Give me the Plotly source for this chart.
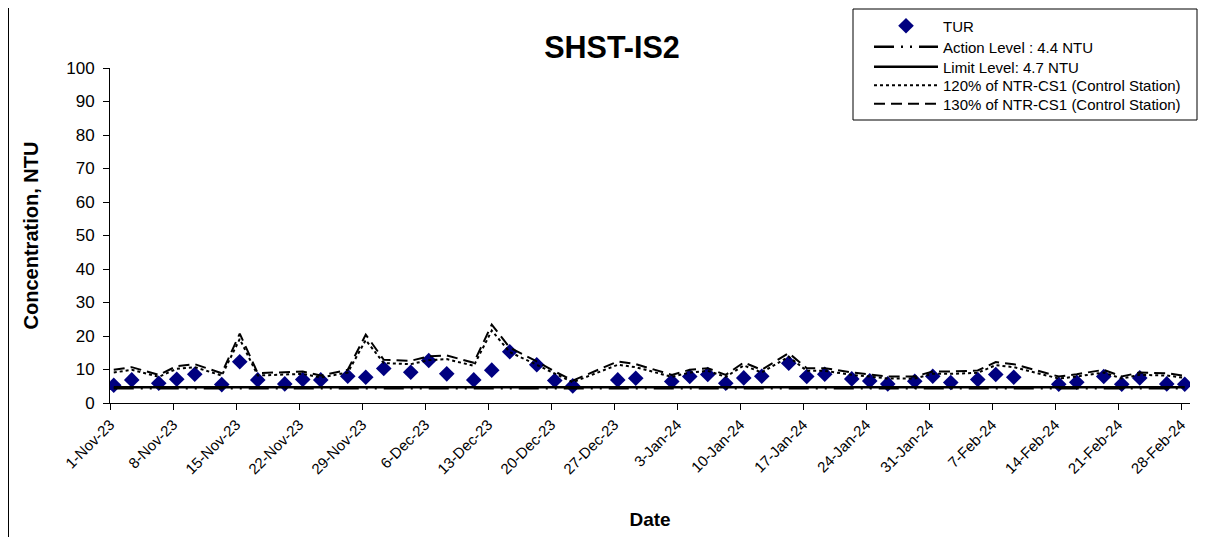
import plotly.graph_objects as go

dates = [
    "2023-11-01", "2023-11-03", "2023-11-06", "2023-11-08", "2023-11-10", "2023-11-13",
    "2023-11-15", "2023-11-17", "2023-11-20", "2023-11-22", "2023-11-24", "2023-11-27",
    "2023-11-29", "2023-12-01", "2023-12-04", "2023-12-06", "2023-12-08", "2023-12-11",
    "2023-12-13", "2023-12-15", "2023-12-18", "2023-12-20", "2023-12-22", "2023-12-27",
    "2023-12-29", "2024-01-02", "2024-01-04", "2024-01-06", "2024-01-08", "2024-01-10",
    "2024-01-12", "2024-01-15", "2024-01-17", "2024-01-19", "2024-01-22", "2024-01-24",
    "2024-01-26", "2024-01-29", "2024-01-31", "2024-02-02", "2024-02-05", "2024-02-07",
    "2024-02-09", "2024-02-14", "2024-02-16", "2024-02-19", "2024-02-21", "2024-02-23",
    "2024-02-26", "2024-02-28",
]
sample_time = " 10:00"

tur = [
    5.3, 6.9, 5.9, 7.1, 8.6, 5.5, 12.3, 6.9, 5.7, 7.0, 6.9, 8.0, 7.7,
    10.3, 9.2, 12.7, 8.7, 6.9, 9.8, 15.3, 11.4, 6.7, 5.1, 6.9, 7.4,
    6.4, 7.9, 8.5, 5.9, 7.5, 8.0, 11.9, 7.9, 8.6, 7.2, 6.6, 5.7, 6.5, 8.0,
    6.1, 7.0, 8.5, 7.7, 5.6, 6.2, 7.9, 5.6, 7.5, 5.7, 5.6,
]
ntr_120 = [
    9.1, 9.9, 7.8, 10.2, 10.7, 8.2, 19.1, 8.2, 8.5, 8.7, 7.6, 9.1, 18.8,
    11.9, 11.6, 12.8, 13.1, 11.1, 21.6, 15.2, 11.4, 8.7, 6.2, 11.4, 10.7,
    7.8, 9.1, 9.6, 7.8, 11.2, 9.1, 13.8, 9.6, 9.6, 8.4, 7.9, 7.3, 7.3, 8.7,
    8.7, 9.0, 11.3, 10.7, 7.3, 7.9, 9.1, 7.3, 8.4, 8.2, 7.5,
]
ntr_130 = [
    9.9, 10.7, 8.4, 11.0, 11.6, 8.9, 20.7, 8.9, 9.2, 9.4, 8.2, 9.9, 20.4,
    12.9, 12.6, 13.9, 14.2, 12.0, 23.4, 16.5, 12.4, 9.4, 6.7, 12.4, 11.6,
    8.4, 9.9, 10.4, 8.4, 12.1, 9.9, 14.9, 10.4, 10.4, 9.1, 8.6, 7.9, 7.9, 9.4,
    9.4, 9.7, 12.2, 11.6, 7.9, 8.6, 9.9, 7.9, 9.1, 8.9, 8.1,
]
action_level = 4.4
limit_level = 4.7

tick_dates = [
    "2023-11-01", "2023-11-08", "2023-11-15", "2023-11-22", "2023-11-29", "2023-12-06",
    "2023-12-13", "2023-12-20", "2023-12-27", "2024-01-03", "2024-01-10", "2024-01-17",
    "2024-01-24", "2024-01-31", "2024-02-07", "2024-02-14", "2024-02-21", "2024-02-28",
]
tick_labels = [
    "1-Nov-23", "8-Nov-23", "15-Nov-23", "22-Nov-23", "29-Nov-23", "6-Dec-23",
    "13-Dec-23", "20-Dec-23", "27-Dec-23", "3-Jan-24", "10-Jan-24", "17-Jan-24",
    "24-Jan-24", "31-Jan-24", "7-Feb-24", "14-Feb-24", "21-Feb-24", "28-Feb-24",
]

x = [d + sample_time for d in dates]
FONT = "Arial, Liberation Sans, sans-serif"

W, H = 1214, 537
L, R, T, B = 102, 1182, 60, 395
PW, PH = R - L, B - T


def px_x(px):
    return (px - L) / PW


def px_y(py):
    return (B - py) / PH


legend_rows = [18, 39, 59, 77.5, 96]
legend_ids = ["legend", "legend2", "legend3", "legend4", "legend5"]

fig = go.Figure()
fig.add_trace(go.Scatter(
    x=x, y=tur, mode="markers", name="TUR", legend=legend_ids[0],
    marker=dict(symbol="diamond", size=12, color="#000080"),
))
fig.add_trace(go.Scatter(
    x=x, y=[action_level] * len(x), mode="lines", name="Action Level : 4.4 NTU",
    legend=legend_ids[1],
    line=dict(color="black", width=2.5, dash="20px,7px,2px,7px,2px,7px"),
))
fig.add_trace(go.Scatter(
    x=x, y=[limit_level] * len(x), mode="lines", name="Limit Level: 4.7 NTU",
    legend=legend_ids[2],
    line=dict(color="black", width=2.5),
))
fig.add_trace(go.Scatter(
    x=x, y=ntr_120, mode="lines", name="120% of NTR-CS1 (Control Station)",
    legend=legend_ids[3],
    line=dict(color="black", width=2, dash="dot"),
))
fig.add_trace(go.Scatter(
    x=x, y=ntr_130, mode="lines", name="130% of NTR-CS1 (Control Station)",
    legend=legend_ids[4],
    line=dict(color="black", width=2, dash="11px,6px"),
))

legend_layout = {}
for lid, row in zip(legend_ids, legend_rows):
    legend_layout[lid] = dict(
        x=px_x(861), y=px_y(row), xanchor="left", yanchor="middle",
        bgcolor="rgba(0,0,0,0)", borderwidth=0,
        font=dict(size=15, family=FONT), itemwidth=64,
    )

fig.update_layout(
    width=W, height=H,
    margin=dict(l=L, r=W - R, t=T, b=H - B, autoexpand=False),
    paper_bgcolor="white", plot_bgcolor="white",
    font=dict(family=FONT, size=15, color="black"),
    title=dict(text="<b>SHST-IS2</b>", x=604 / W, xref="container", xanchor="center",
               y=1 - 39 / H, yref="container", yanchor="middle",
               font=dict(size=30.5, family=FONT)),
    showlegend=True,
    **legend_layout,
    xaxis=dict(
        type="date", range=["2023-11-01", "2024-02-29"],
        tickmode="array", tickvals=tick_dates, ticktext=tick_labels,
        tickangle=-45, ticks="outside", ticklen=6, tickcolor="black",
        showline=True, linecolor="black", linewidth=1, showgrid=False, zeroline=False,
        tickfont=dict(size=15, family=FONT),
        title=dict(text="<b>Date</b>", font=dict(size=19, family=FONT), standoff=36),
    ),
    yaxis=dict(
        range=[0, 100], dtick=10, tick0=0,
        ticks="outside", ticklen=6, tickcolor="black", ticklabelstandoff=5,
        showline=True, linecolor="black", linewidth=1, showgrid=False, zeroline=False,
        tickfont=dict(size=17, family=FONT),
        title=dict(text="<b>Concentration, NTU</b>", font=dict(size=20, family=FONT), standoff=22),
    ),
    shapes=[
        dict(type="rect", xref="paper", yref="paper",
             x0=px_x(845), x1=px_x(1189), y0=px_y(112), y1=px_y(1),
             line=dict(color="black", width=1), fillcolor="rgba(0,0,0,0)", layer="below"),
        dict(type="line", xref="paper", yref="paper",
             x0=px_x(0.5), x1=px_x(0.5), y0=px_y(H + 10), y1=px_y(-5),
             line=dict(color="black", width=1)),
    ],
)

fig.write_html("out.html")
